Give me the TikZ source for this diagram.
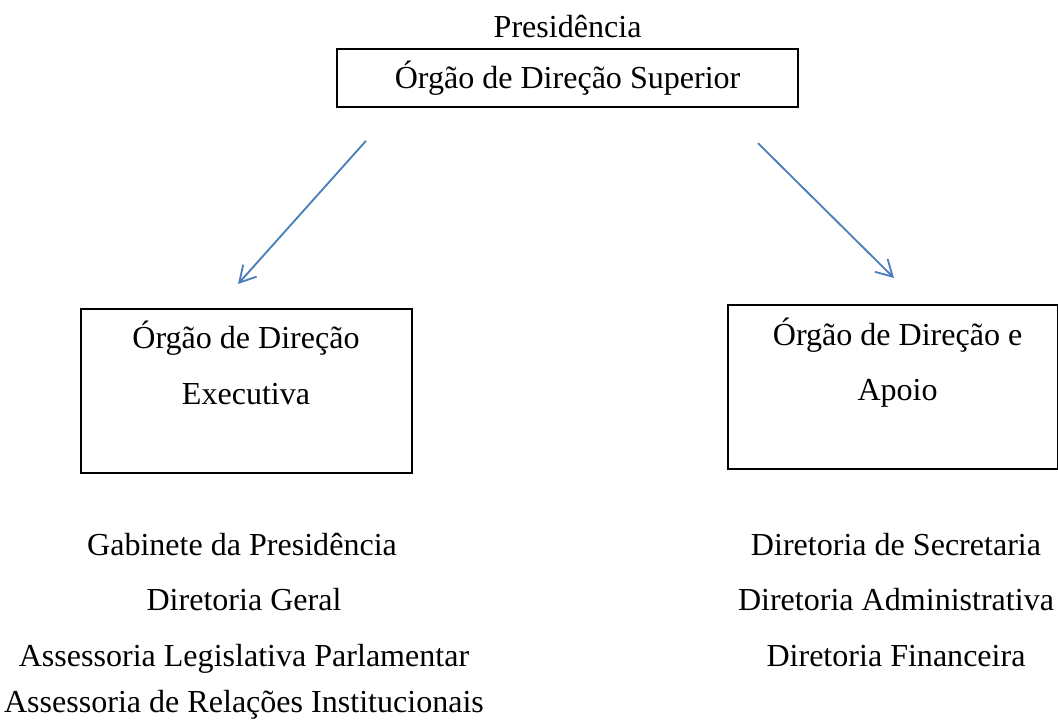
\documentclass[tikz,border=0pt]{standalone}
\usepackage{fontspec}
\setmainfont{Liberation Serif}
\usetikzlibrary{arrows.meta}
\definecolor{setaazul}{HTML}{4A7EBB}
\tikzset{
    caixa/.style={draw=black, line width=1.4pt, fill=none, inner sep=0pt},
    rotulo/.style={anchor=base, inner sep=0pt, font=\fontsize{22.8}{27}\selectfont},
    seta/.style={draw=setaazul, line width=1.3pt, -{Straight Barb[length=0.4cm, width=0.45cm, line width=1.3pt]}}
}
\begin{document}
\begin{tikzpicture}
        \useasboundingbox (0,0) rectangle (26.45,-18.1);

        % Coordinates
        \coordinate (supEsq) at (9.15,-3.52);
        \coordinate (execPonta) at (5.95,-7.1);
        \coordinate (supDir) at (18.95,-3.58);
        \coordinate (apoioPonta) at (22.35,-6.95);

        % Drawing the boxes
        \node[caixa, line width=1.9pt, minimum width=11.525cm, minimum height=1.45cm] (superior) at (14.19,-1.95) {};
        \node[caixa, minimum width=8.275cm, minimum height=4.1cm] (executiva) at (6.1625,-9.775) {};
        \node[caixa, minimum width=8.25cm, minimum height=4.1cm] (apoio) at (22.325,-9.675) {};

        % Labels
        \node[rotulo] (presidencia) at (14.19,-0.95) {Presidência};
        \node[rotulo] (superiorTxt) at (14.19,-2.2) {Órgão de Direção Superior};
        \node[rotulo] (executivaTxtA) at (6.15,-8.7) {Órgão de Direção};
        \node[rotulo] (executivaTxtB) at (6.15,-10.1) {Executiva};
        \node[rotulo] (apoioTxtA) at (22.44,-8.625) {Órgão de Direção e};
        \node[rotulo] (apoioTxtB) at (22.44,-10.0) {Apoio};

        % Left list
        \node[rotulo] (gabinete) at (6.05,-13.875) {Gabinete da Presidência};
        \node[rotulo] (geral) at (6.1,-15.25) {Diretoria Geral};
        \node[rotulo] (legislativa) at (6.1,-16.65) {Assessoria Legislativa Parlamentar};
        \node[rotulo] (relacoes) at (6.1,-17.8) {Assessoria de Relações Institucionais};

        % Right list
        \node[rotulo] (secretaria) at (22.4,-13.875) {Diretoria de Secretaria};
        \node[rotulo] (administrativa) at (22.4,-15.25) {Diretoria Administrativa};
        \node[rotulo] (financeira) at (22.4,-16.65) {Diretoria Financeira};

        % Arrows
        \draw[seta] (supEsq) -- (execPonta);
        \draw[seta] (supDir) -- (apoioPonta);
    \end{tikzpicture}
\end{document}
